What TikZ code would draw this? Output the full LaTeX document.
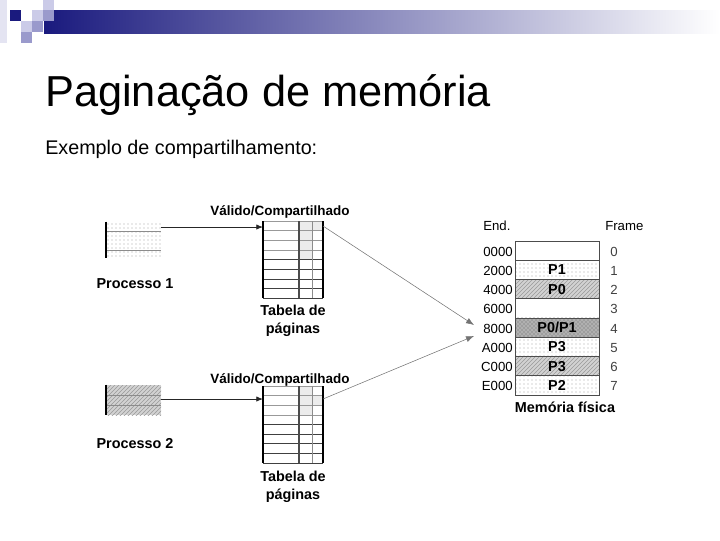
\documentclass[tikz,border=0pt]{standalone}
\usepackage{fontspec}
\setmainfont{Liberation Sans}
\usepackage{xcolor}
\usetikzlibrary{positioning, arrows.meta, calc, patterns}

\definecolor{barnavy}{HTML}{1A1A7E}
\definecolor{barmid}{HTML}{A2A2BA}
\definecolor{sqlight}{HTML}{CBCBE8}
\definecolor{sqmid}{HTML}{9A9ACC}
\definecolor{sqpale}{HTML}{E4E4F2}

\begin{document}
\begin{tikzpicture}[
	x=0.75pt, y=-0.75pt,
	% --- Styles ---
	titletext/.style={anchor=base west, inner sep=0pt, font=\fontsize{32.5}{36}\selectfont},
	subtext/.style={anchor=base west, inner sep=0pt, font=\fontsize{14.8}{17}\selectfont},
	boldlabel/.style={anchor=base, inner sep=0pt, font=\bfseries\fontsize{10.8}{13}\selectfont},
	headlabel/.style={anchor=base, inner sep=0pt, font=\bfseries\fontsize{10.1}{12}\selectfont},
	addrlabel/.style={inner sep=0pt, font=\fontsize{9.9}{12}\selectfont},
	% Process boxes
	procbox/.style={
		rectangle, draw=none, minimum width=41.25pt, inner sep=0pt
	},
	% Memory frames
	memrow/.style={
		rectangle, draw=black!70, line width=0.5pt, minimum width=63pt, minimum height=14.44pt,
		inner sep=0pt, font=\bfseries\fontsize{10.8}{12}\selectfont
	},
	dotfill/.style={pattern=dots, pattern color=gray!70},
	hatchfill/.style={preaction={fill=gray!35}, pattern=north east lines, pattern color=gray!80},
	darkfill/.style={preaction={fill=gray!62}, pattern=crosshatch dots, pattern color=black!60},
	line/.style={draw, -{Latex[length=5pt,width=4pt]}, line width=0.6pt, color=black!85},
	longline/.style={draw, -{Latex[length=6pt,width=4.5pt]}, line width=0.4pt, color=black!55}
	]
	\useasboundingbox (0,0) rectangle (720,540);
	
	% --- 1. Slide header ---
	\shade [left color=barnavy, middle color=barmid, right color=white] (44,10) rectangle (720,33);
	\fill [sqpale] (0,0) rectangle (7,43);
	\fill [barnavy] (10,10) rectangle (21,21);
	\fill [sqlight] (43,0) rectangle (54,10);
	\fill [sqlight] (32,10) rectangle (43,21);
	\fill [sqmid] (43,10) rectangle (54,21);
	\fill [sqlight] (21,21) rectangle (32,32);
	\fill [sqmid] (32,21) rectangle (43,32);
	\fill [sqmid] (21,32) rectangle (32,43);
	
	\node [titletext] (title) at (45,106) {Paginação de memória};
	\node [subtext] (subtitle) at (45,154) {Exemplo de compartilhamento:};
	
	% --- 2. Processes ---
	\node [procbox, dotfill, minimum height=27pt] (proc1) at (133.5,240) {};
	\draw [black!45, line width=0.4pt] (106,231) -- (161,231) (106,250) -- (161,250);
	\draw [black, line width=1.2pt] (proc1.north west) -- (proc1.south west);
	\node [boldlabel] (proc1lbl) at (135,288) {Processo 1};
	
	\node [procbox, hatchfill, minimum height=22.5pt] (proc2) at (133.5,400) {};
	\draw [black!45, line width=0.4pt] (106,395) -- (161,395) (106,405) -- (161,405);
	\draw [black, line width=1.2pt] (proc2.north west) -- (proc2.south west);
	\node [boldlabel] (proc2lbl) at (135,448) {Processo 2};
	
	% --- 3. Page tables ---
	% Table 1 (shared entry in the first row)
	\fill [gray!15] (299,221) rectangle (323,230.6);
	\fill [gray!15] (299,230.6) rectangle (312,259.6);
	\draw [black!40, line width=0.4pt] (263,221) -- (323,221)
		(263,230.6) -- (323,230.6) (263,240.3) -- (323,240.3) (263,250) -- (323,250);
	\draw [black!75, line width=0.6pt] (263,259.6) -- (323,259.6) (263,269.3) -- (323,269.3)
		(263,279) -- (323,279) (263,288.6) -- (323,288.6) (263,298.3) -- (323,298.3);
	\draw [black!45, line width=0.4pt] (312,221) -- (312,298.3);
	\draw [black!70, line width=1pt] (299,221) -- (299,298.3);
	\draw [black, line width=0.8pt] (263,221) -- (263,298.3) (323,221) -- (323,298.3);
	\coordinate (pt1in) at (263,227);
	\coordinate (pt1out) at (323,226);
	\node [headlabel] (val1) at (280,215) {Válido/Compartilhado};
	\node [boldlabel] (pt1lbl) at (293,315) {Tabela de};
	\node [boldlabel] (pt1lblb) at (293,333) {páginas};
	
	% Table 2 (shared entry in the second row)
	\fill [gray!15] (299,386) rectangle (312,414.9);
	\fill [gray!15] (312,395.6) rectangle (323,405.3);
	\draw [black!40, line width=0.4pt] (263,386) -- (323,386)
		(263,395.6) -- (323,395.6) (263,405.3) -- (323,405.3) (263,414.9) -- (323,414.9);
	\draw [black!75, line width=0.6pt] (263,424.5) -- (323,424.5) (263,434.1) -- (323,434.1)
		(263,443.8) -- (323,443.8) (263,453.4) -- (323,453.4) (263,463) -- (323,463);
	\draw [black!45, line width=0.4pt] (312,386) -- (312,463);
	\draw [black!70, line width=1pt] (299,386) -- (299,463);
	\draw [black, line width=0.8pt] (263,386) -- (263,463) (323,386) -- (323,463);
	\coordinate (pt2in) at (263,399);
	\coordinate (pt2out) at (323,399);
	\node [headlabel] (val2) at (280,383) {Válido/Compartilhado};
	\node [boldlabel] (pt2lbl) at (293,481) {Tabela de};
	\node [boldlabel] (pt2lblb) at (293,499) {páginas};
	
	% --- 4. Physical memory ---
	\node [memrow] (m0) at (557,250.6) {};
	\node [memrow, dotfill] (m1) at (557,269.9) {P1};
	\node [memrow, hatchfill] (m2) at (557,289.1) {P0};
	\node [memrow] (m3) at (557,308.4) {};
	\node [memrow, darkfill] (m4) at (557,327.6) {P0/P1};
	\node [memrow, dotfill] (m5) at (557,346.9) {P3};
	\node [memrow, hatchfill] (m6) at (557,366.1) {P3};
	\node [memrow, dotfill] (m7) at (557,385.4) {P2};
	
	% Addresses and frame numbers
	\node [addrlabel, anchor=base west] (endhd) at (483,230) {End.};
	\node [addrlabel, anchor=base west] (framehd) at (605,230) {Frame};
	\node [addrlabel, anchor=base east] (a0) at (513,256) {0000};
	\node [addrlabel, anchor=base east] (a1) at (513,275.3) {2000};
	\node [addrlabel, anchor=base east] (a2) at (513,294.5) {4000};
	\node [addrlabel, anchor=base east] (a3) at (513,313.8) {6000};
	\node [addrlabel, anchor=base east] (a4) at (513,333) {8000};
	\node [addrlabel, anchor=base east] (a5) at (513,352.3) {A000};
	\node [addrlabel, anchor=base east] (a6) at (513,371.5) {C000};
	\node [addrlabel, anchor=base east] (a7) at (513,390.8) {E000};
	\node [addrlabel, anchor=base, text=black!75] (f0) at (614,256) {0};
	\node [addrlabel, anchor=base, text=black!75] (f1) at (614,275.3) {1};
	\node [addrlabel, anchor=base, text=black!75] (f2) at (614,294.5) {2};
	\node [addrlabel, anchor=base, text=black!75] (f3) at (614,313.8) {3};
	\node [addrlabel, anchor=base, text=black!75] (f4) at (614,333) {4};
	\node [addrlabel, anchor=base, text=black!75] (f5) at (614,352.3) {5};
	\node [addrlabel, anchor=base, text=black!75] (f6) at (614,371.5) {6};
	\node [addrlabel, anchor=base, text=black!75] (f7) at (614,390.8) {7};
	\node [boldlabel] (memlbl) at (565,412) {Memória física};
	
	% --- 5. Connections ---
	\draw [line] (proc1.east |- pt1in) -- (pt1in);
	\draw [line] (proc2.east |- pt2in) -- (pt2in);
	
	% Both shared entries point to frame 4
	\coordinate (fr4up) at (474,325);
	\coordinate (fr4dn) at (474,336);
	\draw [longline] (pt1out) -- (fr4up);
	\draw [longline] (pt2out) -- (fr4dn);
	
\end{tikzpicture}
\end{document}
